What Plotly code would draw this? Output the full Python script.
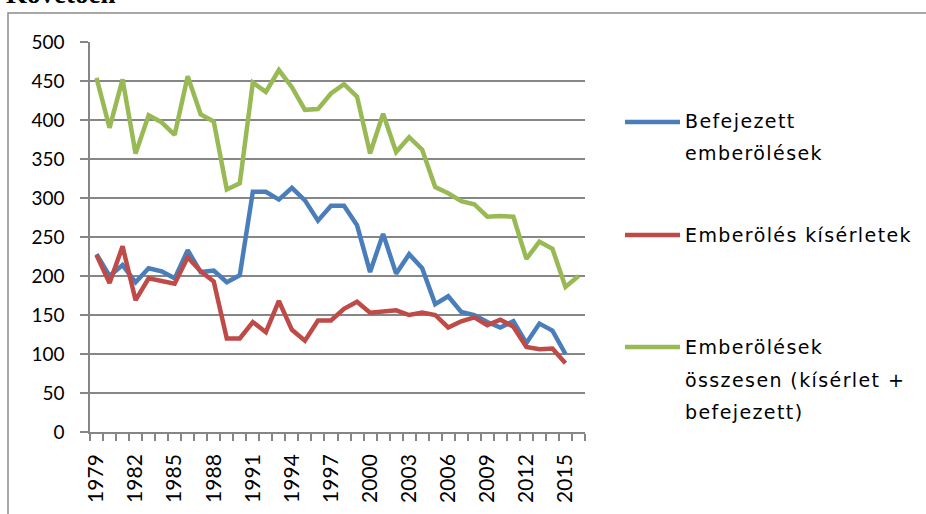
import plotly.graph_objects as go

years = list(range(1979, 2017))

befejezett = [228, 200, 214, 192, 210, 206, 197, 233, 205, 207, 192, 201,
              308, 308, 298, 313, 297, 271, 290, 290, 265, 205, 254, 203,
              228, 210, 164, 174, 154, 150, 141, 134, 142, 114, 139, 130,
              100, None]
kiserletek = [227, 191, 238, 169, 197, 193, 190, 224, 206, 193, 120, 120,
              141, 128, 168, 131, 117, 143, 143, 158, 167, 153, 154, 156,
              150, 153, 150, 134, 142, 147, 137, 144, 135, 109, 106, 107,
              88, None]
osszesen = [454, 390, 452, 357, 406, 397, 381, 456, 407, 398, 311, 319,
            448, 436, 464, 442, 413, 414, 434, 446, 430, 357, 408, 359,
            378, 362, 314, 306, 296, 292, 276, 277, 276, 222, 244, 235,
            186, 200]

series = [
    (["Befejezett", "emberölések"], befejezett, "#4A7EBB"),
    (["Emberölés kísérletek"], kiserletek, "#BE4B48"),
    (["Emberölések", "összesen (kísérlet +", "befejezett)"], osszesen, "#98B954"),
]

W, H = 926, 514
L, R, T, B = 90, 585, 42, 432
GRID = "#868686"
FONT = "Lato"


def px_x(p):
    return (p - L) / (R - L)


def px_y(p):
    return 1 - (p - T) / (B - T)


fig = go.Figure()
for lines, vals, col in series:
    fig.add_trace(go.Scatter(x=years, y=vals, mode="lines", name=" ".join(lines),
                             line=dict(color=col, width=4.5), showlegend=False))

# hand-made legend, Excel style spacing
legend_rows = [(122, [121, 153]), (235, [235]), (347, [347, 380, 412])]
for (lines, _, col), (sw_y, line_ys) in zip(series, legend_rows):
    fig.add_shape(type="line", xref="paper", yref="paper",
                  x0=px_x(625), x1=px_x(680), y0=px_y(sw_y), y1=px_y(sw_y),
                  line=dict(color=col, width=4.5))
    for txt, ly in zip(lines, line_ys):
        fig.add_annotation(text='<span style="letter-spacing:1.4px">' + txt + "</span>",
                           xref="paper", yref="paper",
                           x=px_x(683), y=px_y(ly), xanchor="left", yanchor="middle",
                           showarrow=False,
                           font=dict(family="DejaVu Sans", size=19, color="#000"))

# outer frame and the heading that is cut off by the top edge
fig.add_shape(type="rect", xref="paper", yref="paper",
              x0=px_x(8), x1=px_x(960), y0=px_y(560), y1=px_y(13),
              line=dict(color="#8c8c8c", width=1.5))
fig.add_annotation(text="<b>Követően</b>", xref="paper", yref="paper",
                   x=px_x(4), y=px_y(11), xanchor="left", yanchor="bottom",
                   showarrow=False,
                   font=dict(family="Liberation Serif", size=27, color="#000"))

fig.update_layout(
    width=W, height=H,
    margin=dict(l=L, r=W - R, t=T, b=H - B, pad=0),
    paper_bgcolor="white", plot_bgcolor="white",
    font=dict(family=FONT, size=18, color="#000"),
)
fig.update_yaxes(range=[0, 500], dtick=50, showgrid=True, gridcolor=GRID,
                 gridwidth=1.5, zeroline=False, showline=True, linecolor=GRID,
                 linewidth=1.5, ticks="outside", ticklen=8, tickcolor=GRID,
                 tickwidth=1.5, ticklabelstandoff=12,
                 tickfont=dict(family=FONT, size=19))
fig.update_xaxes(range=[1978.5, 2016.5], tickmode="linear", tick0=1979, dtick=3,
                 tickangle=-90, ticks="", showgrid=False, zeroline=False,
                 showline=True, linecolor=GRID, linewidth=1.5,
                 ticklabelstandoff=12, tickfont=dict(family=FONT, size=21),
                 minor=dict(ticks="outside", tick0=1978.5, dtick=1, ticklen=7,
                            tickcolor=GRID, tickwidth=1.5, showgrid=False))

# drop the default body margin so the figure sits at the page corner
fig.write_html("out.html", config={"displayModeBar": False},
               post_script="document.body.style.margin='0';")
